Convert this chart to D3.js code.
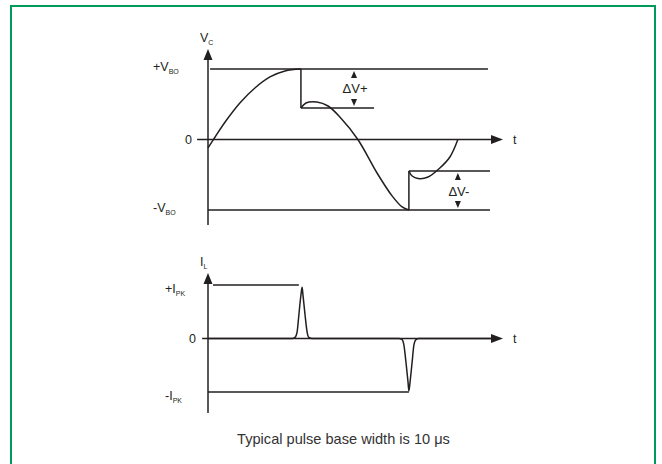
<!DOCTYPE html>
<html><head><meta charset="utf-8">
<script src="https://cdn.jsdelivr.net/npm/d3@7"></script>
<style>
body{margin:0;background:#fff}
svg text{font-family:"Liberation Sans",Arial,sans-serif;fill:#231f20}
</style>
</head><body>
<svg id="c" width="662" height="464"></svg>
<script>
// ---------- data ----------
// time in arbitrary units: 0 = vertical axis, 10 = arrow tip
const timeDomain = [0, 10];
// Vc waveform (t, v) with v in units of V_BO
const vcRise = [[0,-0.12],[0.24,0.035],[0.58,0.248],[1.08,0.518],[1.59,0.73],[2.10,0.887],[2.61,0.972],[3.15,1.0]];
const vcFall = [[3.15,0.447],[3.32,0.518],[3.69,0.532],[4.07,0.475],[4.47,0.319],[5.08,0],[5.73,-0.475],[6.24,-0.80],[6.58,-0.957],[6.81,-1]];
const vcRecover = [[6.81,-0.447],[6.92,-0.518],[7.12,-0.553],[7.46,-0.532],[7.86,-0.404],[8.20,-0.248],[8.47,0]];
const vcJumps = [[3.15, 1, 0.447], [6.81, -1, -0.447]];
const vRefLines = [[1,0.07,9.49],[0.447,3.15,5.63],[-0.447,6.81,9.56],[-1,0,9.56]];
const deltaMarks = [[4.95,1,0.447,"ΔV+"],[8.47,-0.447,-1,"ΔV-"]];
const vLabels = [[1,"+V","BO"],[0,"0",""],[-1,"-V","BO"]];
// I_L waveform (t, i) with i in units of I_PK
const iL = [[0,0],[2.85,0],[2.95,0.02],[3.02,0.12],[3.08,0.44],[3.15,0.81],[3.19,0.96],[3.22,0.81],[3.29,0.44],[3.36,0.12],[3.42,0.02],[3.53,0],
            [6.47,0],[6.58,-0.02],[6.64,-0.12],[6.71,-0.44],[6.78,-0.81],[6.81,-0.98],[6.85,-0.81],[6.92,-0.44],[6.98,-0.12],[7.05,-0.02],[7.15,0],[9.6,0]];
const iRefLines = [[1,0.17,3.08],[-1,0,6.81]];
const iLabels = [[1,"+I","PK"],[0,"0",""],[-1,"-I","PK"]];
const footnote = "Typical pulse base width is 10 μs";

// ---------- drawing ----------
const svg = d3.select("#c");
const ink = "#231f20", sw = 1.5;
svg.append("rect").attr("x",11).attr("y",6).attr("width",644).attr("height",470)
  .attr("fill","none").attr("stroke","#00995c").attr("stroke-width",2);

const x = d3.scaleLinear().domain(timeDomain).range([208,503]);

function panel(cfg){
  const y = d3.scaleLinear().domain([-1,1]).range(cfg.yRange);
  const g = svg.append("g");
  g.append("line").attr("x1",x(0)).attr("x2",x(0)).attr("y1",cfg.axisTop+8).attr("y2",cfg.axisBottom)
    .attr("stroke",ink).attr("stroke-width",sw);
  g.append("path").attr("d",`M${x(0)},${cfg.axisTop}L${x(0)-4.5},${cfg.axisTop+11}L${x(0)+4.5},${cfg.axisTop+11}Z`).attr("fill",ink);
  const tt = g.append("text").attr("x",x(0)-8).attr("y",cfg.axisTop-7).attr("font-size",12.5);
  tt.append("tspan").text(cfg.title[0]);
  tt.append("tspan").attr("font-size",7).attr("dy",3).text(cfg.title[1]);
  g.append("line").attr("x1",x(cfg.zeroStart)).attr("x2",x(10)-8).attr("y1",y(0)).attr("y2",y(0))
    .attr("stroke",ink).attr("stroke-width",sw);
  g.append("path").attr("d",`M${x(10)},${y(0)}L${x(10)-12},${y(0)-4.5}L${x(10)-12},${y(0)+4.5}Z`).attr("fill",ink);
  g.append("text").attr("x",x(10)+10).attr("y",y(0)+4.5).attr("font-size",12.5).text("t");
  cfg.refs.forEach(r=>{
    g.append("line").attr("x1",x(r[1])).attr("x2",x(r[2])).attr("y1",y(r[0])).attr("y2",y(r[0]))
      .attr("stroke",ink).attr("stroke-width",sw);
  });
  cfg.labels.forEach(l=>{
    const t = g.append("text").attr("x",cfg.labelX(l)).attr("y",y(l[0])+cfg.labelDy(l)).attr("font-size",12.5);
    t.append("tspan").text(l[1]);
    if(l[2]) t.append("tspan").attr("font-size",7).attr("dy",3).text(l[2]);
  });
  return {g,y};
}

// ---- top panel: Vc ----
const vPanel = panel({yRange:[210,69], axisTop:49, axisBottom:225, zeroStart:-0.37,
  title:["V","C"], refs:vRefLines, labels:vLabels,
  labelX:l=> l[2]? 153 : 185, labelDy:l=> l[2]? 2 : 4.5});
const lineV = d3.line().x(d=>x(d[0])).y(d=>vPanel.y(d[1])).curve(d3.curveCatmullRom.alpha(0.5));
[vcRise, vcFall, vcRecover].forEach(s=>{
  vPanel.g.append("path").attr("d",lineV(s)).attr("fill","none").attr("stroke",ink).attr("stroke-width",sw);
});
vcJumps.forEach(j=>{
  vPanel.g.append("line").attr("x1",x(j[0])).attr("x2",x(j[0])).attr("y1",vPanel.y(j[1])).attr("y2",vPanel.y(j[2]))
    .attr("stroke",ink).attr("stroke-width",sw);
});
deltaMarks.forEach(d=>{
  const cx = x(d[0]), yA = vPanel.y(d[1])+2, yB = vPanel.y(d[2])-2;
  vPanel.g.append("path").attr("d",`M${cx},${yA}L${cx-3},${yA+7}L${cx+3},${yA+7}Z`).attr("fill",ink);
  vPanel.g.append("path").attr("d",`M${cx},${yB}L${cx-3},${yB-7}L${cx+3},${yB-7}Z`).attr("fill",ink);
  vPanel.g.append("text").attr("x",cx+1).attr("y",(yA+yB)/2+5).attr("text-anchor","middle").attr("font-size",13).text(d[3]);
});

// ---- bottom panel: I_L ----
const iPanel = panel({yRange:[392,285], axisTop:273, axisBottom:413, zeroStart:-0.2,
  title:["I","L"], refs:iRefLines, labels:iLabels,
  labelX:l=> l[2]? 165 : 189, labelDy:l=> l[2]? 8 : 4.5});
const lineI = d3.line().x(d=>x(d[0])).y(d=>iPanel.y(d[1])).curve(d3.curveMonotoneX);
iPanel.g.append("path").attr("d",lineI(iL)).attr("fill","none").attr("stroke",ink).attr("stroke-width",sw);

svg.append("text").attr("x",343.5).attr("y",444).attr("text-anchor","middle").attr("font-size",14.6)
  .style("fill","#333").text(footnote);
</script>
</body></html>
